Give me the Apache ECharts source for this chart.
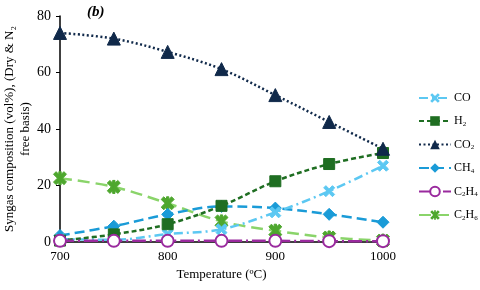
<!DOCTYPE html>
<html><head><meta charset="utf-8">
<script src="https://cdn.jsdelivr.net/npm/echarts@6/dist/echarts.min.js"></script>
<style>html,body{margin:0;padding:0;background:#fff}#c{width:480px;height:290px}</style>
</head><body><div id="c"></div>
<script>
const temps = [700, 750, 800, 850, 900, 950, 1000];
const co   = [1, 0.8, 2.8, 4.5, 10.5, 18, 27];
const h2   = [0.5, 2.7, 6.3, 12.8, 21.5, 27.6, 31.5];
const co2  = [74, 72, 67.3, 61.2, 52, 42.5, 33];
const ch4  = [2.3, 5.6, 9.8, 12.6, 12, 9.8, 7];
const c2h4 = [0.4, 0.4, 0.4, 0.4, 0.4, 0.3, 0.3];
const c2h6 = [22.6, 19.5, 13.7, 7.3, 4, 1.6, 0.5];
const xTicks = [700, 800, 900, 1000];
const yTicks = [0, 20, 40, 60, 80];

const X = 'path://M2,0 L5,3 L8,0 L10,2 L7,5 L10,8 L8,10 L5,7 L2,10 L0,8 L3,5 L0,2 Z';
const AST = 'path://M2,0 L5,3 L8,0 L10,2 L7,5 L10,8 L8,10 L5,7 L2,10 L0,8 L3,5 L0,2 Z M4.1,0 L5.9,0 L5.9,10 L4.1,10 Z';
const font = 'Liberation Serif';

function pts(arr){ return temps.map((t,i)=>[t, arr[i]]); }
function mk(name, data, color, dash, symbol, size, extra){
  return Object.assign({
    name, type:'line', data: pts(data), smooth: 0.35,
    symbol, symbolSize: size,
    lineStyle:{color, width:2.5, type: dash},
    itemStyle:{color, borderColor: color},
    emphasis:{disabled:true}
  }, extra||{});
}
const chart = echarts.init(document.getElementById('c'), null, {renderer:'canvas'});
chart.setOption({
  animation:false,
  textStyle:{fontFamily:font},
  grid:{left:60, right:97, top:16, bottom:48, containLabel:false, outerBoundsMode:'none'},
  title:{text:'(b)', left:82, top:0, textStyle:{fontFamily:font, fontStyle:'italic', fontWeight:'bold', fontSize:15, color:'#000'}},
  xAxis:{type:'value', min:700, max:1000, interval:100,
    axisLine:{show:true, lineStyle:{color:'#000', width:1.5}},
    axisTick:{show:true, length:3, lineStyle:{color:'#000'}},
    splitLine:{show:false},
    axisLabel:{color:'#000', fontSize:13, fontFamily:font, margin:8,
      formatter:v=> xTicks.includes(v)? String(v):''},
    name:'Temperature (ºC)', nameLocation:'middle', nameGap:26, nameMoveOverlap:false,
    nameTextStyle:{color:'#000', fontSize:13, fontFamily:font}},
  yAxis:{type:'value', min:0, max:80, interval:20,
    axisLine:{show:true, lineStyle:{color:'#000', width:1.5}},
    axisTick:{show:true, length:4, lineStyle:{color:'#000'}},
    splitLine:{show:false},
    axisLabel:{color:'#000', fontSize:14, fontFamily:font, margin:9,
      formatter:v=> yTicks.includes(v)? String(v):''},
    name:'Syngas composition (vol%), (Dry & N\u2082\nfree basis)', nameLocation:'middle', nameGap:26, nameMoveOverlap:false,
    nameTextStyle:{color:'#000', fontSize:13, fontFamily:font, lineHeight:16}},
  legend:{
    orient:'vertical', left:413, top:87, itemGap:11, itemWidth:32, itemHeight:12,
    textStyle:{color:'#000', fontSize:12, fontFamily:font, padding:[0,0,0,-2],
      rich:{s:{fontSize:7, fontFamily:font, color:'#000', padding:[6,0,0,0]}}},
    formatter: n => ({'CO':'CO','H2':'H{s|2}','CO2':'CO{s|2}','CH4':'CH{s|4}','C2H4':'C{s|2}H{s|4}','C2H6':'C{s|2}H{s|6}'}[n]),
    data:['CO','H2','CO2','CH4','C2H4','C2H6']
  },
  series:[
    mk('C2H6', c2h6, '#8ad46a', [12,6], AST, 13, {itemStyle:{color:'#4ea72e', borderColor:'#4ea72e'}}),
    mk('CH4', ch4, '#1a9bd7', [10,5], 'diamond', 12),
    mk('CO', co, '#5cc8f2', [9,4,2,4], X, 11),
    mk('H2', h2, '#1f6e22', [5,3], 'rect', 11),
    mk('CO2', co2, '#10294a', [2,2.5], 'triangle', 13),
    mk('C2H4', c2h4, '#9a2a9e', [14,4,2,4], 'emptyCircle', 12, {itemStyle:{color:'#9a2a9e', borderColor:'#9a2a9e', borderWidth:2}})
  ]
});
</script></body></html>
